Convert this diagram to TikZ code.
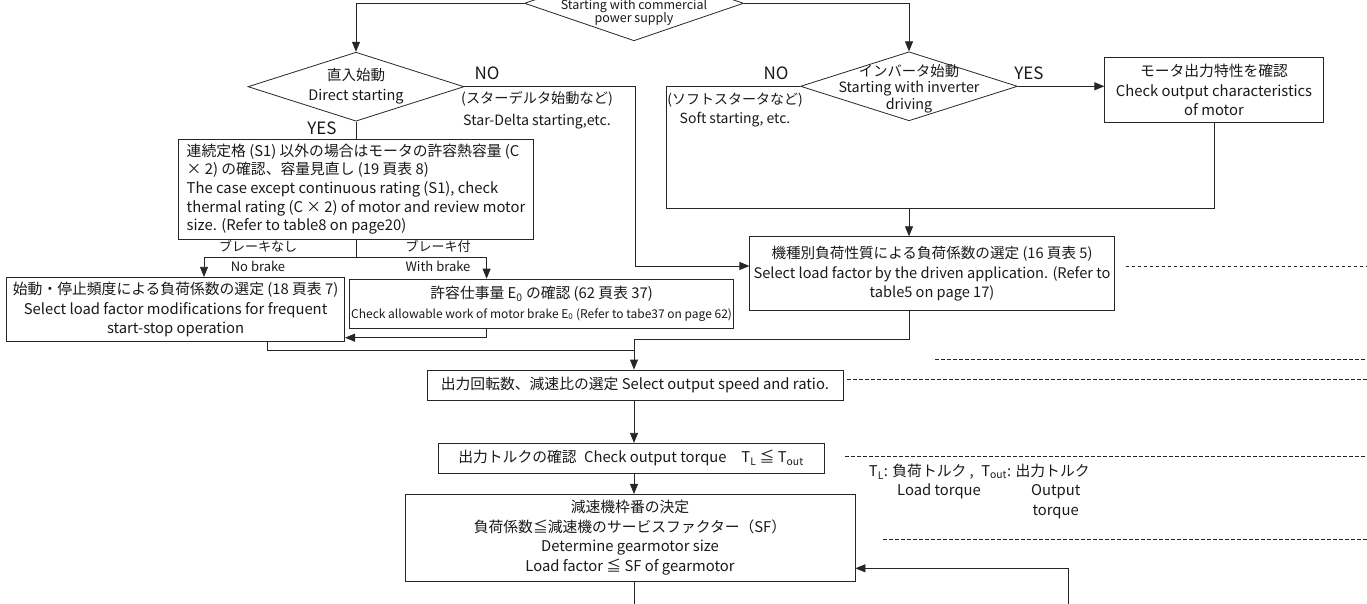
\documentclass[tikz,border=0pt]{standalone}
\usepackage{fontspec}
\setmainfont{Noto Sans CJK JP}
\usetikzlibrary{shapes.geometric,arrows.meta}
\begin{document}
\begin{tikzpicture}[x=1pt,y=-1pt,
  ln/.style={draw=black!85, line width=0.8pt},
  arr/.style={ln, -{Triangle[length=10pt,width=8pt]}},
  box/.style={draw=black!85, line width=0.8pt, inner sep=0pt, align=center, font=\fontsize{14.8}{19.5}\selectfont, text=black!90},
  dia/.style={draw=black!85, line width=0.8pt, shape=diamond, inner sep=0pt},
  txt/.style={inner sep=0pt, align=center, font=\fontsize{14.8}{19.5}\selectfont, text=black!90},
  small/.style={inner sep=0pt, align=center, font=\fontsize{12.5}{13.3}\selectfont, text=black!90},
  lbl/.style={inner sep=0pt, font=\fontsize{17}{18}\selectfont, text=black!90},
  dsh/.style={draw=black!85, line width=0.9pt, dash pattern=on 3.5pt off 2.5pt}]
\useasboundingbox (0,0) rectangle (1367,604);

% decisions
\node[dia, minimum width=219pt, minimum height=75pt] (d0) at (634,3.3) {};
\node[small] (t0) at (634,12.3) {Starting with commercial\\power supply};
\node[dia, minimum width=216pt, minimum height=69pt] (dd) at (356,86.7) {};
\node[txt, font=\fontsize{14.5}{20}\selectfont] (tdd) at (356,86.7) {直入始動\\Direct starting};
\node[dia, minimum width=217pt, minimum height=69pt] (di) at (909,86.3) {};
\node[txt, font=\fontsize{14.3}{16.6}\selectfont] (tdi) at (909,88.4) {インバータ始動\\Starting with inverter\\driving};

% labels
\node[lbl] (no1) at (487,73) {NO};
\node[lbl] (yes1) at (322,128) {YES};
\node[txt, font=\fontsize{14.2}{22}\selectfont] (sd) at (537,110) {(スターデルタ始動など)\\Star-Delta starting,etc.};
\node[lbl] (no2) at (776,73) {NO};
\node[lbl] (yes2) at (1029,73) {YES};
\node[txt, font=\fontsize{14}{19.3}\selectfont] (ss) at (735,109.7) {(ソフトスタータなど)\\Soft starting, etc.};
\node[small, font=\fontsize{13}{20}\selectfont] (nb) at (258,256) {ブレーキなし\\No brake};
\node[small, font=\fontsize{13}{20}\selectfont] (wb) at (438,256) {ブレーキ付\\With brake};

% boxes
\node[box, minimum width=218.5pt, minimum height=65pt] (bm) at (1214,90.2) {モータ出力特性を確認\\Check output characteristics\\of motor};
\node[box, align=left, minimum width=355pt, minimum height=100pt, font=\fontsize{14.8}{18.65}\selectfont] (bc) at (356,189) {連続定格 (S1) 以外の場合はモータの許容熱容量 (C\\× 2) の確認、容量見直し (19 頁表 8)\\The case except continuous rating (S1), check\\thermal rating (C × 2) of motor and review motor\\size. (Refer to table8 on page20)};
\node[box, minimum width=338pt, minimum height=64.4pt] (bs) at (175.6,309.5) {始動・停止頻度による負荷係数の選定 (18 頁表 7)\\Select load factor modifications for frequent\\start-stop operation};
\node[box, minimum width=384pt, minimum height=49.3pt] (bk) at (541.6,303.7) {許容仕事量 E\textsubscript{0} の確認 (62 頁表 37)\\{\fontsize{12}{13}\selectfont Check allowable work of motor brake E\textsubscript{0} (Refer to tabe37 on page 62)}};
\node[box, minimum width=364.3pt, minimum height=74pt, font=\fontsize{14.6}{19.3}\selectfont] (bt) at (932,273.7) {機種別負荷性質による負荷係数の選定 (16 頁表 5)\\Select load factor by the driven application. (Refer to\\table5 on page 17)};
\node[box, minimum width=416pt, minimum height=30pt] (bo) at (634.9,385) {出力回転数、減速比の選定 Select output speed and ratio.};
\node[box, minimum width=386pt, minimum height=30pt] (bq) at (631,458.3) {出力トルクの確認\enspace Check output torque\quad T\textsubscript{L} ≦ T\textsubscript{out}};
\node[box, minimum width=450pt, minimum height=86.7pt, font=\fontsize{14.8}{19.8}\selectfont] (bg) at (630,537.7) {減速機枠番の決定\\負荷係数≦減速機のサービスファクター（SF）\\Determine gearmotor size\\Load factor ≦ SF of gearmotor};

% note
\node[txt, anchor=west] (nt) at (868.7,471.7) {T\textsubscript{L}: 負荷トルク ,\enspace T\textsubscript{out}: 出力トルク};
\node[txt] (nl) at (939,491.7) {Load torque};
\node[txt, font=\fontsize{14.8}{20}\selectfont] (nq) at (1055.7,501.7) {Output\\torque};

% connectors
\draw[arr] (d0.west) -| (dd.north);
\draw[arr] (d0.east) -| (di.north);
\coordinate (j1) at (635,266);
\draw[arr] (dd.east) -| (j1) -- (j1 -| bt.west);
\draw[ln] (dd.south) -- (bc.north);
\draw[arr] (di.east) -- (di.east -| bm.west);
\coordinate (j2) at (666,208.3);
\coordinate (j3) at (bm.south |- j2);
\draw[ln] (di.west) -| (j2) -- (j3) -- (bm.south);
\draw[arr] (j2 -| di.south) -- (di.south |- bt.north);
\coordinate (s1) at (204,257.3);
\coordinate (s2) at (486.6,257.3);
\draw[ln] (bc.south) -- (bc.south |- s1);
\draw[ln] (s1) -- (s2);
\draw[arr] (s1) -- (s1 |- bs.north);
\draw[arr] (s2) -- (s2 |- bk.north);
\coordinate (k1) at (486.6,337.7);
\draw[arr] (s2 |- bk.south) -- (k1) -- (k1 -| bs.east);
\coordinate (m1) at (634,339.3);
\coordinate (m2) at (634,350);
\coordinate (b1) at (267,350);
\draw[ln] (b1 |- bs.south) -- (b1) -- (m2);
\draw[ln] (di.south |- bt.south) -- (di.south |- m1) -- (m1);
\draw[arr] (m1) -- (m1 |- bo.north);
\draw[arr] (m1 |- bo.south) -- (m1 |- bq.north);
\draw[arr] (m1 |- bq.south) -- (m1 |- bg.north);
\coordinate (e1) at (634,616);
\draw[arr] (m1 |- bg.south) -- (e1);
\coordinate (r1) at (1068,620);
\coordinate (r2) at (1068,568.3);
\draw[arr] (r1) -- (r2) -- (r2 -| bg.east);

% dashed guide lines
\coordinate (g1a) at (1125.5,266); \coordinate (g1b) at (1367,266);
\coordinate (g2a) at (935,359.3); \coordinate (g2b) at (1367,359.3);
\coordinate (g3a) at (847,379.3); \coordinate (g3b) at (1367,379.3);
\coordinate (g4a) at (845,456.7); \coordinate (g4b) at (1367,456.7);
\coordinate (g5a) at (883,539.3); \coordinate (g5b) at (1367,539.3);
\draw[dsh] (g1a) -- (g1b);
\draw[dsh] (g2a) -- (g2b);
\draw[dsh] (g3a) -- (g3b);
\draw[dsh] (g4a) -- (g4b);
\draw[dsh] (g5a) -- (g5b);
\end{tikzpicture}
\end{document}
